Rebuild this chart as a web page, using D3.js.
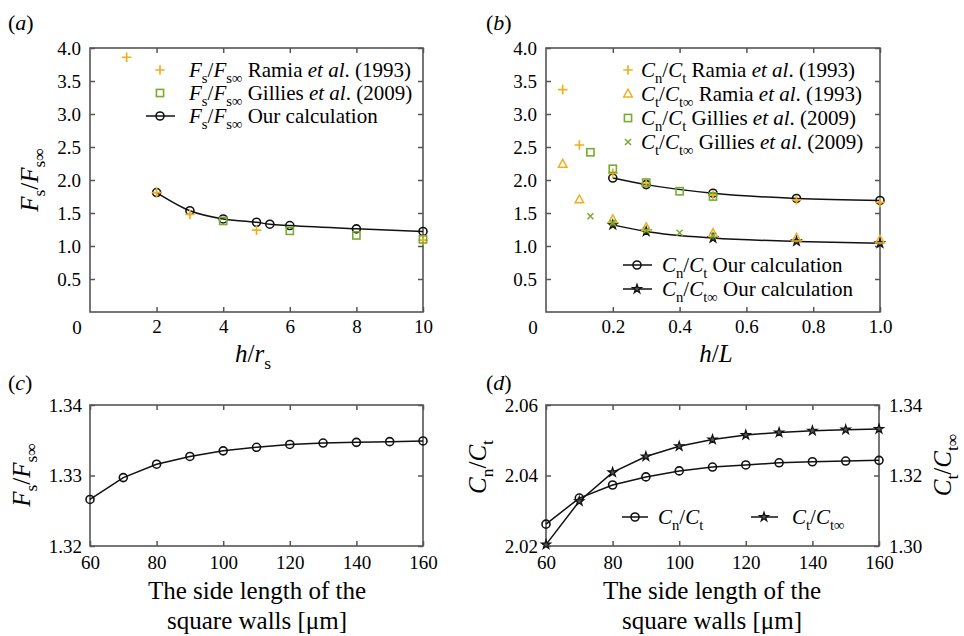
<!DOCTYPE html>
<html>
<head>
<meta charset="utf-8">
<script src="https://cdn.jsdelivr.net/npm/d3@7"></script>
<style>
  body { margin: 0; background: #fff; }
</style>
</head>
<body>
<svg id="fig" width="964" height="636"></svg>
<script>
// ---- data ----
// (a)
const aRamiaX = [1.1, 2, 3, 5, 10];
const aRamiaY = [3.86, 1.81, 1.48, 1.24, 1.09];
const aGilliesX = [4, 6, 8, 10];
const aGilliesY = [1.38, 1.23, 1.16, 1.10];
const aCalcX = [2, 3, 4, 5, 5.4, 6, 8, 10];
const aCalcY = [1.81, 1.535, 1.41, 1.36, 1.33, 1.31, 1.26, 1.22];
// (b)
const bRamiaX = [0.05, 0.1, 0.2, 0.3, 0.5, 0.75, 1.0];
const bRamiaCnY = [3.37, 2.53, 2.10, 1.95, 1.77, 1.70, 1.66];
const bRamiaCtY = [2.24, 1.70, 1.40, 1.28, 1.19, 1.12, 1.09];
const bGilliesX = [0.133, 0.2, 0.3, 0.4, 0.5];
const bGilliesCnY = [2.42, 2.17, 1.96, 1.83, 1.75];
const bGilliesCtY = [1.45, 1.35, 1.24, 1.20, 1.16];
const bCalcX = [0.2, 0.3, 0.5, 0.75, 1.0];
const bCalcCnY = [2.03, 1.93, 1.80, 1.72, 1.69];
const bCalcCtY = [1.32, 1.22, 1.12, 1.07, 1.04];
// (c), (d)
const wallX = [60, 70, 80, 90, 100, 110, 120, 130, 140, 150, 160];
const cFsY = [1.3266, 1.3297, 1.3316, 1.3327, 1.3335, 1.3340, 1.3344, 1.3346, 1.3347, 1.3348, 1.3349];
const dCnY = [2.0262, 2.0336, 2.0373, 2.0396, 2.0413, 2.0424, 2.0430, 2.0436, 2.0439, 2.0441, 2.0443];
const dCtY = [1.3004, 1.3127, 1.3209, 1.3254, 1.3283, 1.3302, 1.3315, 1.3322, 1.3327, 1.3330, 1.3332];

// ticks
const abYTicks = [0.5, 1, 1.5, 2, 2.5, 3, 3.5, 4];
const aXTicks = [2, 4, 6, 8, 10];
const bXTicks = [0.2, 0.4, 0.6, 0.8, 1.0];
const wallTicks = [60, 80, 100, 120, 140, 160];
const cYTicks = [1.32, 1.33, 1.34];
const dLeftTicks = [2.02, 2.04, 2.06];
const dRightTicks = [1.30, 1.32, 1.34];

const orange = "#EDB120", green = "#77AC30", axisCol = "#555";
const serif = "'Liberation Serif', serif";
const svg = d3.select("#fig");
const tickFont = 19;

// text with italics/subscripts: parts = [[text, 'n'|'i'|'s'], ...]
function rich(g, parts, size) {
  let t = g.append("text").style("font-family", serif).style("font-size", size + "px").attr("fill", "#000");
  let off = 0;
  parts.forEach(([txt, st]) => {
    let sub = st.includes("s");
    let want = sub ? size * 0.28 : 0;
    let ts = t.append("tspan").text(txt).attr("dy", want - off);
    if (st.includes("i")) ts.style("font-style", "italic");
    if (sub) ts.style("font-size", (size * 0.7) + "px");
    off = want;
  });
  return t;
}

function plain(g, txt, size) {
  return g.append("text").style("font-family", serif).style("font-size", size + "px").attr("fill", "#000").text(txt);
}

function panel(cfg) {
  const g = svg.append("g");
  const x = d3.scaleLinear().domain(cfg.xd).range([cfg.x0, cfg.x1]);
  const y = d3.scaleLinear().domain(cfg.yd).range([cfg.y1, cfg.y0]);

  g.append("g").attr("transform", `translate(0,${cfg.y1})`)
    .call(d3.axisBottom(x).tickValues(cfg.xt).tickSizeInner(-5).tickSizeOuter(0)
      .tickPadding(cfg.xpad).tickFormat(cfg.xf));
  g.append("g").attr("transform", `translate(0,${cfg.y0})`)
    .call(d3.axisTop(x).tickValues(cfg.xt).tickSizeInner(-5).tickSizeOuter(0).tickFormat(""));
  g.append("g").attr("transform", `translate(${cfg.x0},0)`)
    .call(d3.axisLeft(y).tickValues(cfg.yt).tickSizeInner(-5).tickSizeOuter(0)
      .tickPadding(cfg.ypad).tickFormat(cfg.yf));
  let y2 = null;
  if (cfg.y2d) {
    y2 = d3.scaleLinear().domain(cfg.y2d).range([cfg.y1, cfg.y0]);
    g.append("g").attr("transform", `translate(${cfg.x1},0)`)
      .call(d3.axisRight(y2).tickValues(cfg.y2t).tickSizeInner(-5).tickSizeOuter(0)
        .tickPadding(10).tickFormat(d3.format(".2f")));
  } else {
    g.append("g").attr("transform", `translate(${cfg.x1},0)`)
      .call(d3.axisRight(y).tickValues(cfg.yt).tickSizeInner(-5).tickSizeOuter(0).tickFormat(""));
  }
  g.selectAll(".domain").remove();
  g.selectAll(".tick line").attr("stroke", axisCol).attr("stroke-width", 1.5);
  g.selectAll(".tick text").style("font-size", tickFont + "px").style("font-family", serif).attr("fill", "#000");
  g.append("rect").attr("x", cfg.x0).attr("y", cfg.y0)
    .attr("width", cfg.x1 - cfg.x0).attr("height", cfg.y1 - cfg.y0)
    .attr("fill", "none").attr("stroke", axisCol).attr("stroke-width", 1.6);
  if (cfg.origin) {
    plain(g, "0", tickFont).attr("x", cfg.x0 - 13).attr("y", cfg.y1 + 21.5).attr("text-anchor", "middle");
  }
  return {g, x, y, y2};
}

// marker drawers
const mk = {
  plus: (g, cx, cy, c) => g.append("path").attr("d", `M${cx - 4.8},${cy}H${cx + 4.8}M${cx},${cy - 4.8}V${cy + 4.8}`)
    .attr("stroke", c).attr("stroke-width", 1.7).attr("fill", "none"),
  cross: (g, cx, cy, c) => g.append("path").attr("d", `M${cx - 3},${cy - 3}L${cx + 3},${cy + 3}M${cx - 3},${cy + 3}L${cx + 3},${cy - 3}`)
    .attr("stroke", c).attr("stroke-width", 1.5).attr("fill", "none"),
  square: (g, cx, cy, c) => g.append("rect").attr("x", cx - 3.6).attr("y", cy - 3.6).attr("width", 7.2).attr("height", 7.2)
    .attr("stroke", c).attr("stroke-width", 1.6).attr("fill", "none"),
  tri: (g, cx, cy, c) => g.append("path").attr("d", `M${cx},${cy - 4.8}L${cx + 4.3},${cy + 3}L${cx - 4.3},${cy + 3}Z`)
    .attr("stroke", c).attr("stroke-width", 1.5).attr("fill", "none"),
  circle: (g, cx, cy, c) => g.append("circle").attr("cx", cx).attr("cy", cy).attr("r", 4)
    .attr("stroke", c).attr("stroke-width", 1.6).attr("fill", "none"),
  star: (g, cx, cy, c) => g.append("path").attr("d", d3.symbol(d3.symbolStar, 26)())
    .attr("transform", `translate(${cx},${cy})`)
    .attr("stroke", c).attr("stroke-width", 1.2).attr("fill", "#555")
};

function series(p, xs, ys, type, color, yScale, curve) {
  const ys_ = yScale || p.y;
  if (curve !== undefined) {
    p.g.append("path").datum(xs.map((v, i) => [v, ys[i]]))
      .attr("d", d3.line().x(d => p.x(d[0])).y(d => ys_(d[1])).curve(curve))
      .attr("fill", "none").attr("stroke", "#111").attr("stroke-width", 1.5);
  }
  xs.forEach((v, i) => mk[type](p.g, p.x(v), ys_(ys[i]), color));
}

function legendItem(g, mx, my, type, color, withLine, tx, parts, size) {
  if (withLine) {
    g.append("line").attr("x1", withLine[0]).attr("x2", withLine[1]).attr("y1", my).attr("y2", my)
      .attr("stroke", "#111").attr("stroke-width", 1.5);
  }
  mk[type](g, mx, my, color);
  rich(g, parts, size).attr("x", tx).attr("y", my + 7);
}

const FsFs = [["F", "i"], ["s", "s"], ["/", "n"], ["F", "i"], ["s\u221E", "s"]];
const CnCt = [["C", "i"], ["n", "s"], ["/", "n"], ["C", "i"], ["t", "s"]];
const CtCt = [["C", "i"], ["t", "s"], ["/", "n"], ["C", "i"], ["t\u221E", "s"]];
const CnCtinf = [["C", "i"], ["n", "s"], ["/", "n"], ["C", "i"], ["t\u221E", "s"]];
const ramia = [[" Ramia ", "n"], ["et al", "i"], [". (1993)", "n"]];
const gillies = [[" Gillies ", "n"], ["et al", "i"], [". (2009)", "n"]];
const ours = [[" Our calculation", "n"]];
const legSize = 21, labSize = 25;

// ---------- (a) ----------
const pa = panel({x0: 90, x1: 423, y0: 48, y1: 312, xd: [0, 10], yd: [0, 4],
  xt: aXTicks, yt: abYTicks, xf: d3.format("d"), yf: d3.format(".1f"), xpad: 8, ypad: 9, origin: true});
series(pa, aCalcX, aCalcY, "circle", "#111", null, d3.curveMonotoneX);
series(pa, aRamiaX, aRamiaY, "plus", orange);
series(pa, aGilliesX, aGilliesY, "square", green);
legendItem(pa.g, 160, 70, "plus", orange, null, 189, FsFs.concat(ramia), legSize);
legendItem(pa.g, 160, 93, "square", green, null, 189, FsFs.concat(gillies), legSize);
legendItem(pa.g, 160, 116, "circle", "#111", [146, 175], 189, FsFs.concat(ours), legSize);
rich(pa.g, FsFs, labSize).attr("text-anchor", "middle").attr("transform", "translate(38,180) rotate(-90)");
rich(pa.g, [["h", "i"], ["/", "n"], ["r", "i"], ["s", "s"]], labSize).attr("text-anchor", "middle").attr("x", 253).attr("y", 362);

// ---------- (b) ----------
const pb = panel({x0: 546, x1: 880, y0: 48, y1: 312, xd: [0, 1], yd: [0, 4],
  xt: bXTicks, yt: abYTicks, xf: d3.format(".1f"), yf: d3.format(".1f"), xpad: 8, ypad: 9, origin: true});
series(pb, bCalcX, bCalcCnY, "circle", "#111", null, d3.curveMonotoneX);
series(pb, bCalcX, bCalcCtY, "star", "#111", null, d3.curveMonotoneX);
series(pb, bRamiaX, bRamiaCnY, "plus", orange);
series(pb, bRamiaX, bRamiaCtY, "tri", orange);
series(pb, bGilliesX, bGilliesCnY, "square", green);
series(pb, bGilliesX, bGilliesCtY, "cross", green);
legendItem(pb.g, 628, 70, "plus", orange, null, 641, CnCt.concat(ramia), legSize);
legendItem(pb.g, 628, 94, "tri", orange, null, 641, CtCt.concat(ramia), legSize);
legendItem(pb.g, 628, 118, "square", green, null, 641, CnCt.concat(gillies), legSize);
legendItem(pb.g, 628, 142, "cross", green, null, 641, CtCt.concat(gillies), legSize);
legendItem(pb.g, 637, 265, "circle", "#111", [623, 652], 662, CnCt.concat(ours), legSize);
legendItem(pb.g, 637, 289, "star", "#111", [623, 652], 662, CnCtinf.concat(ours), legSize);
rich(pb.g, [["h", "i"], ["/", "n"], ["L", "i"]], labSize).attr("text-anchor", "middle").attr("x", 716).attr("y", 362);

// ---------- (c) ----------
const pc = panel({x0: 90, x1: 423, y0: 405, y1: 546, xd: [60, 160], yd: [1.32, 1.34],
  xt: wallTicks, yt: cYTicks, xf: d3.format("d"), yf: d3.format(".2f"), xpad: 10, ypad: 8});
series(pc, wallX, cFsY, "circle", "#111", null, d3.curveLinear);
rich(pc.g, FsFs, labSize).attr("text-anchor", "middle").attr("transform", "translate(30,475) rotate(-90)");
plain(pc.g, "The side length of the", labSize).attr("text-anchor", "middle").attr("x", 257).attr("y", 599);
plain(pc.g, "square walls [\u03BCm]", labSize).attr("text-anchor", "middle").attr("x", 257).attr("y", 629);

// ---------- (d) ----------
const pd = panel({x0: 546, x1: 879, y0: 405, y1: 546, xd: [60, 160], yd: [2.02, 2.06],
  xt: wallTicks, yt: dLeftTicks, xf: d3.format("d"), yf: d3.format(".2f"), xpad: 10, ypad: 8,
  y2d: [1.30, 1.34], y2t: dRightTicks});
series(pd, wallX, dCnY, "circle", "#111", null, d3.curveLinear);
series(pd, wallX, dCtY, "star", "#111", pd.y2, d3.curveLinear);
legendItem(pd.g, 635, 517, "circle", "#111", [622, 648], 658, CnCt, legSize);
legendItem(pd.g, 764, 517, "star", "#111", [751, 778], 792, CtCt, legSize);
rich(pd.g, CnCt, labSize).attr("text-anchor", "middle").attr("transform", "translate(486,467) rotate(-90)");
rich(pd.g, CtCt, labSize).attr("text-anchor", "middle").attr("transform", "translate(951,465) rotate(-90)");
plain(pd.g, "The side length of the", labSize).attr("text-anchor", "middle").attr("x", 712).attr("y", 599);
plain(pd.g, "square walls [\u03BCm]", labSize).attr("text-anchor", "middle").attr("x", 712).attr("y", 629);

// panel letters
[["a", 8, 30], ["b", 486, 30], ["c", 8, 390], ["d", 486, 390]].forEach(([l, px, py]) => {
  rich(svg, [["(", "n"], [l, "i"], [")", "n"]], 22).attr("x", px).attr("y", py);
});
</script>
</body>
</html>
